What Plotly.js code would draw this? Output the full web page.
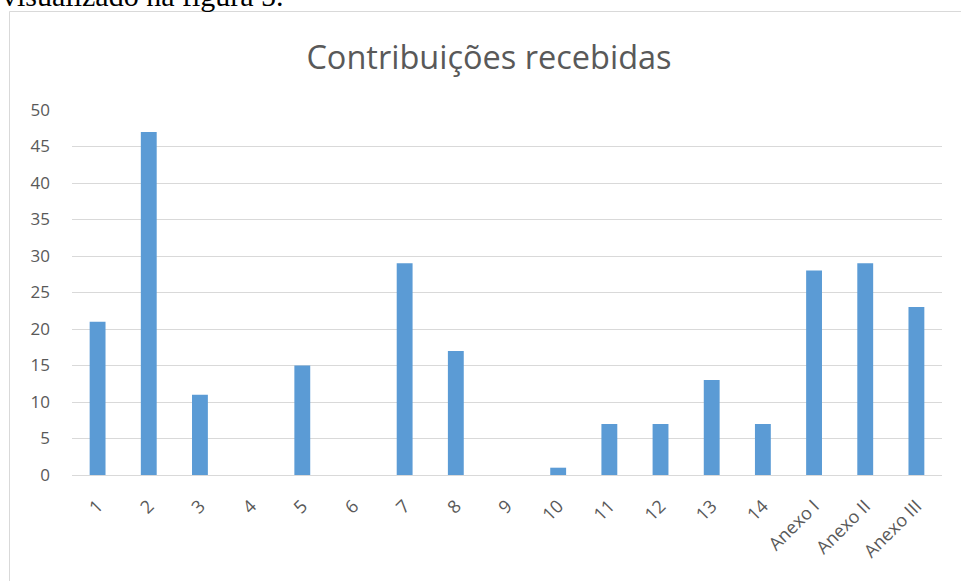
<!DOCTYPE html>
<html>
<head>
<meta charset="utf-8">
<script src="https://cdn.plot.ly/plotly-3.0.1.min.js"></script>
<style>html,body{margin:0;padding:0;background:#fff;}</style>
</head>
<body>
<div id="chart" style="width:961px;height:581px;"></div>
<script>
const categories = ["1","2","3","4","5","6","7","8","9","10","11","12","13","14","Anexo I","Anexo II","Anexo III"];
const values = [21, 47, 11, 0, 15, 0, 29, 17, 0, 1, 7, 7, 13, 7, 28, 29, 23];
const yTicks = [0, 5, 10, 15, 20, 25, 30, 35, 40, 45, 50];
const chartTitle = "Contribuições recebidas";
const pageText = "visualizado na figura 5.";

const W = 961, H = 581;
const m = {l: 72, r: 19, t: 110, b: 106};
const pw = W - m.l - m.r, ph = H - m.t - m.b;
const px = v => (v - m.l) / pw;
const py = v => (H - m.b - v) / ph;

const trace = {
  type: 'bar',
  x: categories,
  y: values,
  marker: {color: '#5b9bd5'},
  hoverinfo: 'x+y'
};

const font = "'Open Sans', 'Noto Sans', sans-serif";

const layout = {
  width: W, height: H,
  margin: m,
  paper_bgcolor: '#fff',
  plot_bgcolor: '#fff',
  showlegend: false,
  bargap: 0.69,
  title: {
    text: chartTitle,
    font: {family: font, size: 32.5, color: '#595959'},
    xref: 'container', x: 489 / W, xanchor: 'center',
    yref: 'container', y: 1 - 58 / H, yanchor: 'middle'
  },
  xaxis: {
    type: 'category',
    tickangle: -45,
    tickfont: {family: font, size: 18, color: '#595959'},
    showgrid: false,
    showline: false,
    zeroline: false,
    ticks: '',
    ticklabelstandoff: 16,
    fixedrange: true
  },
  yaxis: {
    range: [0, 50],
    tickvals: yTicks,
    ticktext: yTicks.map(String),
    tickfont: {family: font, size: 17, color: '#595959'},
    showgrid: true,
    gridcolor: '#d9d9d9',
    gridwidth: 1,
    zeroline: true,
    zerolinecolor: '#d9d9d9',
    zerolinewidth: 1,
    showline: false,
    ticks: '',
    ticklabelstandoff: 21,
    fixedrange: true
  },
  shapes: [{
    type: 'rect', xref: 'paper', yref: 'paper',
    x0: px(9.5), x1: px(1200), y0: py(11.5), y1: py(900),
    line: {color: '#d9d9d9', width: 1},
    fillcolor: 'rgba(0,0,0,0)',
    layer: 'below'
  }],
  annotations: [{
    text: pageText,
    xref: 'paper', yref: 'paper',
    x: px(0), y: py(14),
    xanchor: 'left', yanchor: 'bottom',
    showarrow: false,
    font: {family: "'Liberation Serif', 'DejaVu Serif', serif", size: 30, color: '#000'}
  }]
};

Plotly.newPlot('chart', [trace], layout, {displayModeBar: false, staticPlot: true});
</script>
</body>
</html>
